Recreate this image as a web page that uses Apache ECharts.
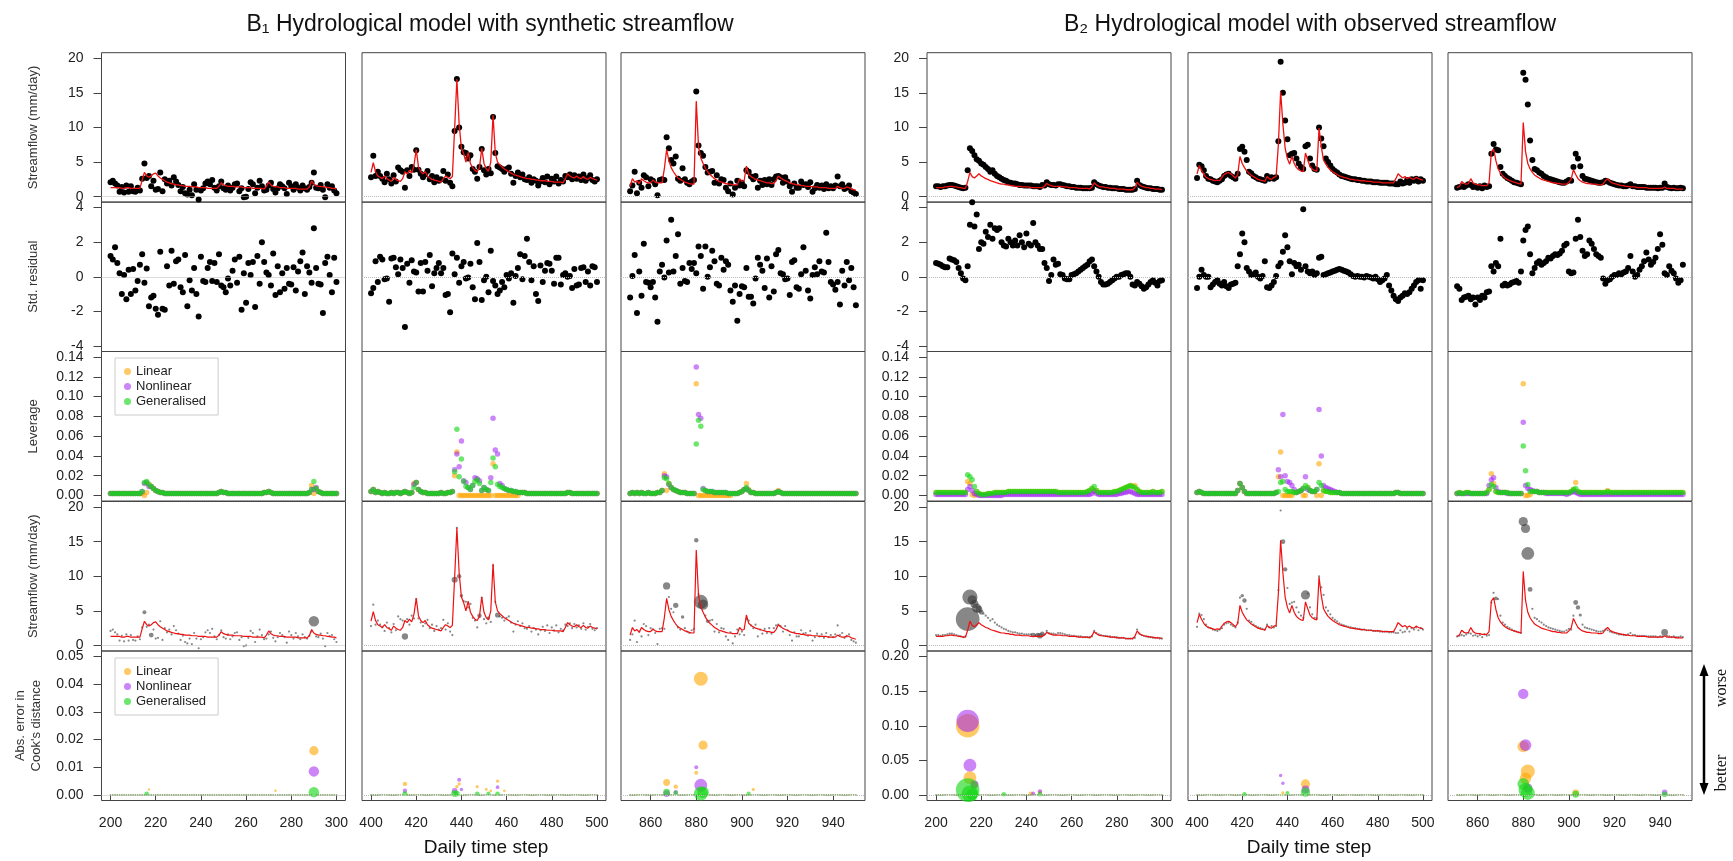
<!DOCTYPE html>
<html>
<head>
<meta charset="utf-8">
<title>Hydrological model diagnostics</title>
<script src="https://cdn.jsdelivr.net/npm/echarts@6/dist/echarts.min.js"></script>
<style>
  html, body { margin: 0; padding: 0; background: #fff; }
  #main { width: 1733px; height: 861px; }
</style>
</head>
<body>
<div id="main"></div>
<script>
// ---------- B1, days 200-300 ----------
const obsB1a = [
  2.1, 2.3, 1.9, 1.6, 0.7, 1.4, 0.6, 1.6, 0.7, 1.5,
  0.8, 0.7, 1.3, 0.9, 2.6, 4.8, 2.7, 3.0, 1.5, 2.3,
  1.0, 1.1, 3.5, 0.8, 2.5, 1.9, 2.3, 1.6, 2.8, 2.2,
  1.7, 0.8, 1.4, 0.5, 0.3, 1.0, 0.2, 1.8, 1.0, -0.4,
  0.9, 1.2, 1.9, 2.2, 1.8, 2.4, 1.3, 0.9, 1.5, 2.2,
  1.2, 1.0, 1.6, 0.9, 1.3, 1.8, 1.9, 0.8, 1.2, -0.1,
  0.0, 1.1, 2.1, 1.8, 0.5, 1.3, 2.3, 1.5, 0.9, 1.0,
  1.6, 2.0, 1.1, 0.6, 1.2, 1.8, 1.5, 1.2, 0.4, 2.0,
  1.5, 1.0, 1.8, 1.3, 0.9, 1.6, 1.2, 1.0, 1.4, 2.0,
  3.5, 1.3, 1.2, 1.7, 1.0, -0.1, 1.8, 1.3, 1.5, 0.9, 0.5
];
const modB1a = [
  1.3, 1.3, 1.3, 1.3, 1.3, 1.2, 1.2, 1.3, 1.3, 1.2,
  1.2, 1.2, 1.2, 1.2, 2.4, 3.5, 3.0, 2.8, 3.0, 3.3,
  3.4, 3.0, 2.7, 2.5, 2.3, 2.1, 2.0, 1.9, 1.8, 1.7,
  1.7, 1.6, 1.6, 1.5, 1.5, 1.5, 1.4, 1.4, 1.4, 1.3,
  1.3, 1.3, 1.3, 1.2, 1.2, 1.2, 1.2, 1.2, 1.5, 2.0,
  1.7, 1.6, 1.5, 1.5, 1.5, 1.4, 1.4, 1.4, 1.4, 1.3,
  1.3, 1.3, 1.3, 1.2, 1.2, 1.2, 1.2, 1.2, 1.1, 1.5,
  2.1, 1.7, 1.5, 1.4, 1.4, 1.3, 1.3, 1.3, 1.2, 1.2,
  1.2, 1.2, 1.2, 1.1, 1.1, 1.1, 1.1, 1.1, 1.4, 2.3,
  1.8, 1.6, 1.5, 1.5, 1.4, 1.4, 1.3, 1.3, 1.2, 1.2, 1.1
];
const resB1a = [
  1.2, 1.0, 1.7, 0.8, 0.2, -1.0, 0.1, -1.3, 0.4, -1.0,
  0.45, -0.8, -0.25, 0.7, 1.3, -0.35, 0.47, -1.7, -1.2, -1.1,
  -1.85, -2.2, 1.45, -1.85, -1.9, 0.6, -0.5, 1.5, -0.4, 0.9,
  1.0, -0.6, -0.9, 1.25, -1.7, -0.2, -0.8, 0.5, -1.0, -2.3,
  1.15, -0.25, -0.3, 0.5, 0.85, -0.25, 0.8, -0.3, 1.3, -0.5,
  -0.6, -0.9, -0.1, -0.5, 0.35, 1.0, -0.35, 1.15, -1.9, 0.2,
  -1.5, 0.8, 0.1, 0.85, -1.75, 1.2, -0.4, 2.0, 0.85, 0.25,
  0.1, -0.5, 1.35, -1.05, 0.6, -0.9, 0.2, -0.7, 0.5, -0.4,
  -0.45, 0.55, -0.8, 0.3, 0.9, 1.4, -1.0, 0.6, 0.25, -0.35,
  2.8, 0.5, -0.4, -0.45, -2.1, 0.8, 1.15, 0.1, -0.9, 1.1, -0.3
];
const levGenB1a = [
  0.002, 0.002, 0.002, 0.002, 0.002, 0.002, 0.002, 0.002, 0.002, 0.002,
  0.002, 0.002, 0.002, 0.002, 0.004, 0.013, 0.014, 0.011, 0.009, 0.007,
  0.005, 0.004, 0.003, 0.003, 0.002, 0.002, 0.002, 0.002, 0.002, 0.002,
  0.002, 0.002, 0.002, 0.002, 0.002, 0.002, 0.002, 0.002, 0.002, 0.002,
  0.002, 0.002, 0.002, 0.002, 0.002, 0.002, 0.002, 0.002, 0.003, 0.004,
  0.003, 0.003, 0.002, 0.002, 0.002, 0.002, 0.002, 0.002, 0.002, 0.002,
  0.002, 0.002, 0.002, 0.002, 0.002, 0.002, 0.002, 0.002, 0.003, 0.003,
  0.004, 0.003, 0.002, 0.002, 0.002, 0.002, 0.002, 0.002, 0.002, 0.002,
  0.002, 0.002, 0.002, 0.002, 0.002, 0.002, 0.002, 0.002, 0.003, 0.006,
  0.014, 0.007, 0.004, 0.003, 0.002, 0.002, 0.002, 0.002, 0.002, 0.002, 0.002
];
const levNonPtsB1a = [[215, 0.012], [216, 0.013], [217, 0.009], [290, 0.006], [291, 0.008]];
const levLinPtsB1a = [[214, 0.002], [215, 0.000], [216, 0.003], [270, 0.004], [289, 0.010], [290, 0.002]];
const inflB1a = [[215, 0.08], [218, 0.12], [290, 0.35]];
const ckLinB1a = [[217, 0.002, 0.02], [273, 0.0015, 0.02], [290, 0.016, 0.3]];
const ckNonB1a = [[290, 0.0085, 0.35]];
const ckGenB1a = [[216, 0.0005, 0.1], [290, 0.001, 0.35]];

// ---------- B1, days 400-500 ----------
const obsB1b = [
  2.8, 5.9, 3.0, 3.6, 3.0, 2.6, 2.1, 3.3, 2.5, 1.9,
  3.1, 2.2, 4.2, 3.8, 3.6, 1.3, 3.8, 3.0, 4.3, 3.9,
  6.7, 3.9, 3.3, 2.8, 3.2, 3.7, 2.5, 3.0, 2.1, 2.8,
  2.3, 2.5, 3.7, 2.3, 3.2, 2.0, 1.5, 9.5, 17.0, 10.0,
  7.2, 6.4, 6.3, 5.5, 6.0, 4.0, 3.6, 2.6, 4.3, 6.9,
  3.8, 3.2, 4.0, 3.4, 11.5, 6.3, 4.4, 4.2, 4.0, 3.6,
  4.0, 4.2, 3.3, 2.0, 3.0, 3.5, 2.8, 3.2, 2.5, 2.4,
  2.8, 2.0, 2.5, 2.3, 1.6, 2.2, 2.7, 2.1, 2.9, 1.8,
  2.6, 2.2, 2.9, 1.9, 2.4, 2.2, 3.0, 2.8, 3.2, 2.5,
  3.1, 2.6, 2.9, 2.4, 3.2, 2.3, 2.7, 3.1, 2.4, 2.2, 2.5
];
const modB1b = [
  3.5, 4.9, 3.6, 3.0, 2.8, 2.6, 3.0, 2.6, 2.4, 2.2,
  2.8, 2.5, 2.3, 2.2, 2.6, 3.6, 3.3, 3.8, 3.4, 4.5,
  6.8, 4.3, 3.6, 3.3, 3.6, 3.0, 2.7, 2.5, 2.4, 2.3,
  2.2, 2.1, 2.6, 3.0, 2.8, 2.6, 2.9, 9.8, 17.0, 10.5,
  7.0, 6.2, 5.0, 6.4, 4.8, 4.2, 3.8, 3.6, 4.2, 7.0,
  4.8, 4.0, 3.7, 5.0, 11.8, 6.3, 5.0, 4.6, 4.3, 4.0,
  3.8, 3.6, 3.4, 3.2, 3.1, 3.0, 2.9, 2.8, 2.7, 2.6,
  2.6, 2.5, 2.5, 2.4, 2.4, 2.3, 2.3, 2.3, 2.2, 2.2,
  2.2, 2.1, 2.1, 2.1, 2.1, 2.0, 2.6, 3.3, 3.0, 2.8,
  2.7, 3.0, 2.7, 2.6, 2.9, 2.6, 2.5, 2.8, 2.6, 2.5, 2.4
];
const resB1b = [
  -0.95, -0.65, 0.9, -0.3, 1.15, 1.0, -0.15, -0.1, -1.45, 1.05,
  1.1, 0.55, 0.15, 1.0, 0.5, -2.9, 0.75, -0.35, 0.95, 0.3,
  0.25, -0.85, 0.8, -0.85, 0.85, 0.35, 1.25, -0.55, 0.2, 0.5,
  0.8, 0.2, 0.5, -1.05, -1.0, -2.05, 1.35, 0.15, 1.1, -0.35,
  0.6, 0.85, -0.1, -0.05, 0.75, -0.6, -1.3, 1.95, 0.85, -1.35,
  -0.2, 0.0, -0.9, 1.5, -0.25, -0.5, -1.0, -0.8, -0.3, -0.6,
  0.1, -0.1, 0.2, -1.5, 0.05, 0.5, 1.3, -0.15, 1.2, 2.2,
  0.85, -0.2, 0.6, -1.0, -1.4, 0.65, -0.3, 0.35, 0.8, 0.75,
  0.35, -0.4, 1.1, 1.1, -0.45, 0.1, 0.2, 0.0, 0.05, -0.65,
  0.45, -0.5, -0.45, 0.5, 0.55, -0.3, 0.3, -0.5, 0.6, 0.55, -0.3
];
const levGenB1b = [
  0.004, 0.006, 0.003, 0.004, 0.003, 0.002, 0.003, 0.002, 0.002, 0.003,
  0.002, 0.003, 0.003, 0.002, 0.003, 0.004, 0.003, 0.002, 0.003, 0.008,
  0.013, 0.006, 0.004, 0.003, 0.003, 0.002, 0.002, 0.002, 0.002, 0.002,
  0.002, 0.003, 0.002, 0.002, 0.003, 0.003, 0.004, 0.024, 0.067, 0.019,
  0.037, 0.014, 0.009, 0.008, 0.006, 0.010, 0.014, 0.016, 0.012, 0.005,
  0.008, 0.006, 0.005, 0.013, 0.038, 0.029, 0.011, 0.009, 0.008, 0.007,
  0.006, 0.005, 0.005, 0.004, 0.004, 0.003, 0.003, 0.003, 0.003, 0.002,
  0.002, 0.002, 0.002, 0.002, 0.002, 0.002, 0.002, 0.002, 0.002, 0.002,
  0.002, 0.002, 0.002, 0.002, 0.002, 0.002, 0.002, 0.003, 0.003, 0.002,
  0.002, 0.002, 0.002, 0.002, 0.002, 0.002, 0.002, 0.002, 0.002, 0.002, 0.002
];
const levNonPtsB1b = [
  [419, 0.011], [437, 0.026], [438, 0.042], [439, 0.029], [440, 0.055], [441, 0.015],
  [442, 0.013], [446, 0.018], [447, 0.017], [448, 0.015], [453, 0.018], [454, 0.078],
  [455, 0.046], [456, 0.042], [457, 0.012], [458, 0.010]
];
const levLinPtsB1b = [
  [419, 0.012], [437, 0.020], [438, 0.044], [439, 0], [440, 0], [441, 0], [442, 0], [443, 0],
  [444, 0], [445, 0], [446, 0], [447, 0], [448, 0], [449, 0], [450, 0], [451, 0], [452, 0],
  [453, 0], [454, 0.032], [455, 0], [456, 0], [457, 0], [458, 0], [459, 0], [460, 0],
  [461, 0], [462, 0], [463, 0], [464, 0], [465, 0]
];
const inflB1b = [[415, 0.18], [437, 0.17], [439, 0.1], [440, 0.06], [448, 0.1], [452, 0.05], [456, 0.13]];
const ckLinB1b = [[415, 0.004, 0.1], [438, 0.003, 0.06], [439, 0.004, 0.06], [447, 0.003, 0.05],
  [451, 0.002, 0.04], [453, 0.0015, 0.03], [456, 0.005, 0.06], [459, 0.0015, 0.03]];
const ckNonB1b = [[415, 0.0015, 0.1], [437, 0.0015, 0.15], [439, 0.0055, 0.08], [440, 0.002, 0.06], [456, 0.0028, 0.07]];
const ckGenB1b = [[415, 0.0005, 0.12], [437, 0.0005, 0.2], [438, 0.0005, 0.15], [447, 0.0005, 0.1],
  [452, 0.0005, 0.08], [456, 0.0005, 0.1]];

// ---------- B1, days 851-950 ----------
const obsB1c = [
  0.8, 1.6, 3.6, 0.5, 2.0, 1.3, 3.1, 2.8, 1.5, 2.5,
  2.3, 1.8, 0.2, 2.4, 2.5, 2.4, 8.6, 7.0, 5.3, 4.8,
  5.8, 2.6, 2.3, 4.1, 2.5, 2.0, 1.8, 2.2, 2.4, 15.2,
  7.4, 6.3, 5.9, 4.3, 3.5, 3.6, 3.7, 2.0, 3.1, 1.9,
  2.5, 2.4, 1.3, 0.8, 1.9, 0.3, 1.3, 2.3, 1.6, 2.0,
  1.5, 3.8, 3.6, 2.9, 2.5, 3.0, 1.3, 2.3, 1.7, 2.4,
  1.8, 2.5, 1.7, 2.5, 2.9, 3.0, 2.8, 2.0, 2.8, 2.2,
  1.5, 0.7, 1.9, 1.3, 1.3, 2.2, 1.7, 1.8, 1.4, 2.1,
  0.7, 1.2, 1.7, 1.3, 1.6, 1.1, 1.8, 1.2, 1.5, 1.2,
  1.6, 2.9, 1.5, 1.8, 1.1, 1.3, 1.6, 0.8, 0.6, 0.4
];
const modB1c = [
  1.5, 2.6, 2.1, 2.3, 1.9, 2.6, 2.3, 2.1, 2.0, 2.0,
  2.4, 2.1, 2.0, 2.0, 2.0, 4.0, 6.8, 5.2, 4.2, 3.6,
  3.1, 2.7, 2.5, 2.3, 2.1, 2.0, 1.9, 1.8, 1.8, 13.8,
  7.2, 5.6, 4.8, 4.1, 3.6, 3.2, 2.9, 2.6, 2.4, 2.2,
  2.1, 2.0, 1.9, 1.8, 1.8, 1.7, 1.7, 1.7, 2.6, 2.2,
  2.3, 4.4, 3.2, 2.9, 2.7, 2.5, 2.4, 2.3, 2.2, 2.1,
  2.0, 2.0, 1.9, 1.9, 2.3, 3.0, 2.7, 2.5, 2.3, 2.2,
  2.0, 1.9, 1.8, 1.7, 1.7, 1.6, 1.6, 1.5, 1.5, 1.5,
  1.4, 1.4, 1.4, 1.3, 1.3, 1.3, 1.3, 1.2, 1.2, 1.2,
  1.2, 1.5, 1.3, 1.2, 1.2, 1.4, 1.3, 1.1, 1.0, 0.9
];
const resB1c = [
  -1.2, 0.05, 1.25, -2.1, 0.3, -1.1, 1.9, -0.3, -0.35, -0.6,
  -0.3, -1.2, -2.6, 0.3, 0.7, -0.05, 2.1, 0.25, 3.3, 0.3,
  1.2, 2.45, -0.4, 0.5, -0.25, -0.3, 0.8, 0.45, 0.8, 0.2,
  1.75, 1.2, -0.7, 1.75, 0.0, 0.55, 1.5, 0.9, -0.4, -0.5,
  1.1, 0.4, 0.9, 0.7, -0.8, -1.45, -0.5, -2.55, -1.0, -0.55,
  -0.6, 0.5, -1.15, -1.15, -1.55, -0.1, 1.1, 0.7, 0.35, -0.65,
  1.05, -1.2, 0.6, -0.85, 1.3, 1.55, 0.2, 0.15, -0.15, -0.1,
  -1.05, 0.85, 0.95, -0.6, -0.7, 0.15, 1.7, 0.35, -0.8, -1.25,
  0.1, 0.55, 0.15, 0.9, 0.3, 0.25, 2.55, 0.85, -0.3, -0.45,
  -0.75, -0.3, -1.6, 0.35, -0.5, 0.85, -0.2, 0.5, -0.6, -1.65
];
const levGenB1c = [
  0.002, 0.003, 0.002, 0.003, 0.002, 0.003, 0.002, 0.002, 0.003, 0.002,
  0.002, 0.002, 0.003, 0.003, 0.005, 0.018, 0.017, 0.012, 0.008, 0.006,
  0.005, 0.004, 0.003, 0.003, 0.003, 0.002, 0.002, 0.002, 0.002, 0.052,
  0.076, 0.070, 0.006, 0.005, 0.004, 0.004, 0.004, 0.003, 0.003, 0.003,
  0.003, 0.003, 0.003, 0.002, 0.002, 0.002, 0.002, 0.002, 0.003, 0.004,
  0.006, 0.008, 0.005, 0.003, 0.003, 0.002, 0.002, 0.002, 0.002, 0.002,
  0.002, 0.002, 0.002, 0.002, 0.003, 0.004, 0.003, 0.002, 0.002, 0.002,
  0.002, 0.002, 0.002, 0.002, 0.002, 0.002, 0.002, 0.002, 0.002, 0.002,
  0.002, 0.002, 0.002, 0.002, 0.002, 0.002, 0.002, 0.002, 0.002, 0.002,
  0.002, 0.002, 0.002, 0.002, 0.002, 0.002, 0.002, 0.002, 0.002, 0.002
];
const levNonPtsB1c = [[866, 0.020], [867, 0.019], [868, 0.011], [880, 0.130], [881, 0.082],
  [882, 0.078], [883, 0.007], [902, 0.007]];
const levLinPtsB1c = [[866, 0.022], [867, 0.005], [880, 0.113], [881, 0], [882, 0], [883, 0],
  [884, 0], [885, 0], [886, 0], [887, 0], [888, 0], [889, 0], [890, 0], [891, 0], [892, 0],
  [893, 0], [894, 0], [895, 0], [902, 0.012], [903, 0.006], [916, 0.005]];
const inflB1c = [[867, 0.22], [871, 0.14], [874, 0.06], [880, 0.1], [882, 0.5], [883, 0.35], [885, 0.06]];
const ckLinB1c = [[867, 0.0045, 0.2], [871, 0.003, 0.1], [880, 0.008, 0.08], [882, 0.042, 0.5],
  [883, 0.018, 0.3], [905, 0.002, 0.05]];
const ckNonB1c = [[867, 0.0005, 0.2], [871, 0.001, 0.1], [880, 0.010, 0.08], [882, 0.0035, 0.45]];
const ckGenB1c = [[867, 0.001, 0.2], [871, 0.0008, 0.1], [882, 0.0005, 0.5], [883, 0.001, 0.4], [903, 0.0005, 0.08]];

// ---------- B2, days 200-300 ----------
const obsB2a = [
  1.5, 1.5, 1.4, 1.5, 1.5, 1.6, 1.7, 1.7, 1.6, 1.5,
  1.4, 1.3, 1.2, 1.3, 3.8, 7.0, 6.6, 6.0, 5.4, 5.2,
  4.8, 4.6, 4.3, 4.0, 3.6, 3.8, 3.3, 3.0, 2.8, 2.6,
  2.4, 2.3, 2.1, 2.0, 1.9, 1.9, 1.8, 1.7, 1.7, 1.6,
  1.6, 1.6, 1.6, 1.5, 1.5, 1.5, 1.4, 1.7, 1.6, 2.1,
  1.8, 1.7, 1.7, 1.6, 1.8, 1.8, 1.7, 1.6, 1.5, 1.5,
  1.4, 1.4, 1.3, 1.3, 1.3, 1.2, 1.2, 1.2, 1.2, 1.3,
  2.1, 1.8, 1.6, 1.5, 1.4, 1.4, 1.3, 1.3, 1.2, 1.2,
  1.2, 1.1, 1.1, 1.1, 1.0, 1.0, 1.0, 1.0, 1.1, 2.3,
  1.7, 1.5, 1.4, 1.3, 1.2, 1.2, 1.1, 1.1, 1.1, 1.0, 1.0
];
const modB2a = [
  1.3, 1.3, 1.3, 1.3, 1.4, 1.4, 1.5, 1.5, 1.4, 1.4,
  1.3, 1.3, 1.2, 1.2, 2.2, 3.5, 2.9, 2.7, 3.0, 3.3,
  3.0, 2.8, 2.6, 2.5, 2.3, 2.2, 2.1, 2.0, 1.9, 1.8,
  1.8, 1.7, 1.7, 1.6, 1.6, 1.5, 1.5, 1.5, 1.4, 1.4,
  1.4, 1.4, 1.3, 1.3, 1.3, 1.3, 1.3, 1.3, 1.5, 1.9,
  1.7, 1.6, 1.5, 1.5, 1.5, 1.5, 1.4, 1.4, 1.4, 1.3,
  1.3, 1.3, 1.3, 1.2, 1.2, 1.2, 1.2, 1.2, 1.1, 1.4,
  2.0, 1.7, 1.5, 1.4, 1.4, 1.3, 1.3, 1.2, 1.2, 1.2,
  1.1, 1.1, 1.1, 1.1, 1.0, 1.0, 1.0, 1.0, 1.3, 2.1,
  1.7, 1.5, 1.4, 1.3, 1.3, 1.2, 1.2, 1.1, 1.1, 1.1, 1.0
];
const resB2a = [
  0.8, 0.75, 0.7, 0.6, 0.55, 0.55, 1.05, 1.0, 0.95, 0.85,
  0.5, 0.2, -0.1, -0.2, 0.6, 3.0, 4.3, 2.9, 3.6, 1.6,
  2.0, 1.9, 2.6, 2.3, 3.0, 2.2, 2.8, 2.7, 2.8, 2.0,
  1.8, 1.75, 2.2, 2.0, 1.8, 2.1, 1.8, 2.4, 2.0, 1.7,
  2.5, 1.9, 1.8, 3.1, 2.0, 1.8, 1.6, 1.6, 0.8, 0.5,
  -0.25, 0.1, 1.0, 0.7, 0.75, 0.15, 0.1, -0.1, -0.15, -0.15,
  0.1, 0.15, 0.2, 0.3, 0.4, 0.5, 0.6, 0.7, 0.9, 1.0,
  0.6, 0.3, 0.0, -0.3, -0.45, -0.45, -0.4, -0.3, -0.2, -0.1,
  0.0, 0.0, 0.1, 0.15, 0.2, 0.2, 0.0, -0.45, -0.5, -0.3,
  -0.4, -0.55, -0.7, -0.6, -0.45, -0.3, -0.2, -0.35, -0.5, -0.25, -0.2
];
const levGenB2a = [
  0.003, 0.003, 0.003, 0.003, 0.003, 0.003, 0.003, 0.003, 0.003, 0.003,
  0.003, 0.003, 0.003, 0.003, 0.021, 0.019, 0.016, 0.009, 0.004, 0.002,
  0.001, 0.001, 0.001, 0.002, 0.002, 0.002, 0.003, 0.003, 0.003, 0.003,
  0.003, 0.003, 0.004, 0.004, 0.004, 0.004, 0.004, 0.004, 0.004, 0.004,
  0.004, 0.004, 0.004, 0.004, 0.004, 0.004, 0.004, 0.004, 0.004, 0.004,
  0.004, 0.004, 0.004, 0.004, 0.003, 0.003, 0.003, 0.003, 0.003, 0.003,
  0.003, 0.003, 0.003, 0.003, 0.003, 0.003, 0.003, 0.004, 0.005, 0.007,
  0.009, 0.005, 0.003, 0.003, 0.003, 0.003, 0.003, 0.003, 0.003, 0.004,
  0.004, 0.005, 0.006, 0.007, 0.008, 0.009, 0.010, 0.009, 0.008, 0.006,
  0.004, 0.003, 0.003, 0.003, 0.003, 0.003, 0.004, 0.003, 0.003, 0.003, 0.004
];
const levNonB2a = [
  0.001, 0.001, 0.001, 0.001, 0.001, 0.001, 0.001, 0.001, 0.001, 0.001,
  0.001, 0.001, 0.001, 0.001, 0.006, 0.009, 0.005, 0.002, 0.001, 0.000,
  0.000, 0.000, 0.000, 0.000, 0.000, 0.000, 0.000, 0.000, 0.000, 0.000,
  0.001, 0.001, 0.001, 0.001, 0.001, 0.001, 0.001, 0.001, 0.001, 0.001,
  0.001, 0.001, 0.001, 0.001, 0.001, 0.001, 0.001, 0.001, 0.001, 0.001,
  0.001, 0.001, 0.001, 0.001, 0.001, 0.001, 0.001, 0.001, 0.001, 0.001,
  0.001, 0.001, 0.001, 0.001, 0.001, 0.001, 0.001, 0.001, 0.001, 0.002,
  0.004, 0.002, 0.001, 0.001, 0.001, 0.001, 0.001, 0.001, 0.001, 0.001,
  0.001, 0.002, 0.002, 0.003, 0.003, 0.004, 0.004, 0.003, 0.002, 0.001,
  0.001, 0.001, 0.001, 0.001, 0.001, 0.001, 0.001, 0.001, 0.001, 0.001, 0.001
];
const levLinPtsB2a = [[214, 0.014], [215, 0.012], [216, 0.001], [217, 0.000], [270, 0.005], [288, 0.010]];
const inflB2a = [[214, 0.9], [215, 0.55], [216, 0.3], [217, 0.25], [218, 0.3], [219, 0.2], [220, 0.12],
  [243, 0.12], [245, 0.12], [246, 0.15], [247, 0.1]];
const ckLinB2a = [[214, 0.100, 0.9], [215, 0.025, 0.45], [217, 0.015, 0.2], [242, 0.002, 0.1], [246, 0.004, 0.08]];
const ckNonB2a = [[214, 0.107, 0.85], [215, 0.043, 0.45], [217, 0.015, 0.25], [243, 0.002, 0.08], [246, 0.005, 0.1]];
const ckGenB2a = [[214, 0.007, 0.9], [215, 0.002, 0.6], [216, 0.001, 0.4], [230, 0.001, 0.1], [246, 0.001, 0.1]];

// ---------- B2, days 400-500 ----------
const obsB2b = [
  2.7, 4.6, 4.4, 3.8, 3.0, 2.6, 2.5, 2.3, 2.2, 2.1,
  2.3, 2.5, 3.0, 3.2, 3.3, 3.0, 2.8, 2.6, 3.3, 6.9,
  7.2, 6.5, 5.3, 3.6, 3.4, 3.0, 2.8, 2.6, 2.5, 2.4,
  2.3, 3.0, 2.6, 2.8, 2.6, 2.8, 8.0, 19.5, 15.0, 11.0,
  8.3, 6.0, 6.2, 6.3, 5.5, 4.8, 4.3, 4.0, 7.3, 7.5,
  5.5, 4.5, 4.0, 3.9, 10.0, 8.4, 7.3, 5.5, 5.0, 4.5,
  4.0, 3.7, 3.5, 3.2, 3.0, 2.9, 2.8, 2.7, 2.6, 2.5,
  2.5, 2.4, 2.4, 2.3, 2.3, 2.2, 2.2, 2.2, 2.1, 2.1,
  2.1, 2.0, 2.0, 2.0, 2.0, 1.9, 1.9, 1.9, 1.8, 1.8,
  2.2, 1.9, 2.0, 2.4, 2.0, 2.5, 2.3, 2.6, 2.2, 2.5, 2.3
];
const modB2b = [
  3.3, 4.5, 3.8, 3.2, 2.8, 2.6, 2.5, 2.4, 2.3, 2.4,
  2.3, 2.8, 3.2, 3.4, 3.5, 3.3, 3.0, 2.7, 3.2, 5.8,
  4.8, 4.2, 3.7, 3.4, 3.1, 2.9, 2.7, 2.5, 2.4, 2.3,
  2.2, 2.9, 2.6, 2.5, 2.8, 2.9, 7.5, 15.2, 10.5, 7.0,
  5.5, 4.7, 5.8, 4.8, 4.2, 3.9, 3.7, 3.6, 6.3, 5.3,
  4.4, 4.0, 3.8, 3.7, 9.9, 7.2, 5.3, 4.7, 4.2, 3.9,
  3.6, 3.4, 3.2, 3.0, 2.9, 2.8, 2.7, 2.6, 2.5, 2.5,
  2.4, 2.4, 2.3, 2.3, 2.3, 2.2, 2.2, 2.2, 2.1, 2.1,
  2.1, 2.1, 2.0, 2.0, 2.0, 2.0, 2.0, 2.0, 2.6, 3.3,
  3.0, 2.7, 2.9, 2.6, 2.8, 2.6, 2.5, 2.8, 2.6, 2.5, 2.4
];
const resB2b = [
  -0.65, 0.0, 0.4, 0.1, 0.0, 0.0, -0.6, -0.45, -0.3, -0.2,
  -0.4, -0.5, -0.3, -0.55, -0.65, -0.45, -0.4, -0.35, 0.6, 1.3,
  2.5, 2.0, 0.5, 0.3, 0.1, 0.15, 0.25, 0.0, -0.1, 0.05,
  0.9, -0.6, -0.65, -0.5, -0.3, 0.05, 0.6, 0.8, 1.45, 2.4,
  1.7, 0.9, 0.15, 0.8, 0.6, 0.7, 0.4, 3.9, 0.6, 0.3,
  0.2, 0.3, 0.1, 0.2, 1.1, 1.15, 0.1, 0.15, 0.2, 0.25,
  0.3, 0.35, 0.4, 0.45, 0.4, 0.35, 0.3, 0.25, 0.15, 0.05,
  0.0, 0.05, 0.0, 0.0, -0.05, 0.05, 0.0, -0.05, -0.1, 0.0,
  -0.15, -0.3, -0.2, -0.1, 0.1, -0.5, -0.8, -1.1, -1.3, -1.4,
  -1.2, -1.1, -0.95, -1.0, -0.9, -0.7, -0.5, -0.3, -0.2, -0.7, -0.2
];
const levGenB2b = [
  0.003, 0.004, 0.003, 0.002, 0.002, 0.002, 0.002, 0.002, 0.002, 0.002,
  0.002, 0.002, 0.002, 0.002, 0.002, 0.002, 0.002, 0.002, 0.005, 0.012,
  0.008, 0.004, 0.002, 0.002, 0.002, 0.002, 0.002, 0.002, 0.002, 0.002,
  0.002, 0.002, 0.002, 0.002, 0.002, 0.003, 0.004, 0.013, 0.014, 0.006,
  0.004, 0.004, 0.004, 0.003, 0.003, 0.004, 0.005, 0.007, 0.010, 0.008,
  0.005, 0.004, 0.004, 0.006, 0.013, 0.010, 0.005, 0.004, 0.004, 0.003,
  0.003, 0.003, 0.003, 0.003, 0.002, 0.002, 0.002, 0.002, 0.002, 0.002,
  0.002, 0.002, 0.002, 0.002, 0.002, 0.002, 0.002, 0.002, 0.002, 0.002,
  0.002, 0.002, 0.002, 0.002, 0.002, 0.002, 0.002, 0.002, 0.003, 0.003,
  0.002, 0.002, 0.002, 0.002, 0.002, 0.002, 0.002, 0.002, 0.002, 0.002, 0.002
];
const levNonPtsB2b = [[436, 0.026], [437, 0.019], [438, 0.082], [439, 0.020], [440, 0.014], [441, 0.013],
  [442, 0.010], [443, 0.006], [448, 0.019], [449, 0.006], [454, 0.087], [455, 0.040], [456, 0.010],
  [457, 0.008], [458, 0.007], [459, 0.006], [460, 0.005], [461, 0.004]];
const levLinPtsB2b = [[436, 0.019], [437, 0.044], [438, 0], [439, 0], [440, 0], [441, 0], [442, 0],
  [447, 0], [448, 0], [453, 0], [454, 0.032], [455, 0]];
const inflB2b = [[420, 0.06], [421, 0.1], [438, 0.12], [439, 0.1], [448, 0.3]];
const ckLinB2b = [[438, 0.003, 0.05], [448, 0.016, 0.3]];
const ckNonB2b = [[437, 0.028, 0.06], [438, 0.017, 0.06], [448, 0.008, 0.25]];
const ckGenB2b = [[421, 0.001, 0.1], [440, 0.003, 0.08], [448, 0.004, 0.3]];

// ---------- B2, days 851-950 ----------
const obsB2c = [
  1.3, 1.4, 1.5, 1.4, 1.6, 1.8, 1.7, 1.4, 1.5, 1.3,
  1.5, 1.2, 1.6, 1.4, 1.5, 6.2, 7.6, 6.8, 6.7, 4.3,
  3.3, 3.0, 2.7, 2.5, 2.3, 2.1, 2.0, 1.9, 1.8, 17.9,
  16.9, 13.3, 8.1, 5.3, 4.0, 3.8, 3.5, 3.3, 3.0, 2.8,
  2.6, 2.5, 2.4, 2.3, 2.2, 2.1, 2.0, 2.0, 2.2, 2.4,
  2.3, 4.3, 6.2, 5.5, 4.4, 3.0, 2.6, 2.5, 2.4, 2.3,
  2.2, 2.1, 2.0, 2.0, 2.1, 2.3, 2.2, 2.0, 1.9, 1.8,
  1.7, 1.6, 1.6, 1.5, 1.5, 1.6, 1.8, 1.5, 1.5, 1.4,
  1.4, 1.4, 1.4, 1.3, 1.3, 1.3, 1.3, 1.3, 1.2, 1.3,
  1.3, 1.9, 1.4, 1.3, 1.2, 1.3, 1.2, 1.2, 1.3, 1.2
];
const modB2c = [
  1.3, 1.5, 2.2, 1.9, 1.8, 1.9, 2.6, 2.0, 1.8, 1.7,
  1.7, 1.6, 1.6, 1.6, 2.0, 6.4, 6.9, 5.2, 4.0, 3.4,
  3.0, 2.7, 2.5, 2.3, 2.2, 2.1, 2.0, 1.9, 1.8, 10.7,
  6.5, 4.8, 4.0, 3.5, 3.1, 2.9, 2.7, 2.5, 2.4, 2.3,
  2.2, 2.1, 2.0, 2.0, 1.9, 1.9, 1.8, 1.8, 1.8, 2.1,
  2.5, 3.9, 3.2, 2.6, 2.3, 2.1, 2.0, 1.9, 1.9, 1.8,
  1.8, 1.8, 1.7, 1.7, 1.8, 2.3, 2.6, 2.2, 2.0, 1.9,
  1.8, 1.7, 1.6, 1.6, 1.5, 1.5, 1.4, 1.4, 1.4, 1.3,
  1.3, 1.3, 1.3, 1.3, 1.2, 1.2, 1.2, 1.2, 1.2, 1.2,
  1.2, 1.4, 1.2, 1.2, 1.2, 1.2, 1.1, 1.1, 1.1, 1.1
];
const resB2c = [
  -0.55, -0.7, -1.35, -1.2, -1.15, -1.1, -1.3, -1.2, -1.6, -1.2,
  -1.35, -1.1, -1.2, -0.9, -0.85, 0.6, 0.3, 0.8, 0.6, 2.2,
  -0.5, -0.4, -0.5, -0.45, -0.35, -0.3, -0.25, -0.35, 0.3, 2.1,
  2.7, 2.9, 1.3, 0.2, 0.5, 0.8, 0.9, 0.7, 0.8, 0.9,
  1.1, 1.05, 1.2, 1.3, 1.25, 1.35, 1.5, 1.8, 1.9, 0.3,
  0.2, 0.25, 2.2, 3.3, 2.3, 1.5, 1.2, 1.3, 2.1, 1.9,
  1.6, 1.3, 1.2, 1.1, -0.1, -0.4, -0.2, -0.15, 0.0, 0.1,
  0.1, 0.2, 0.15, 0.25, 0.3, 0.5, 1.2, 0.3, 0.0, 0.1,
  0.4, 0.6, 0.9, 1.4, 1.0, 0.7, 0.85, 1.1, 1.6, 2.45,
  1.85, 0.2, 0.1, 0.6, 0.35, 0.2, -0.1, -0.35, -0.2, 0.7
];
const levGenB2c = [
  0.002, 0.003, 0.002, 0.002, 0.003, 0.003, 0.002, 0.002, 0.002, 0.002,
  0.002, 0.002, 0.002, 0.003, 0.006, 0.011, 0.009, 0.004, 0.003, 0.003,
  0.003, 0.003, 0.003, 0.002, 0.002, 0.002, 0.002, 0.002, 0.002, 0.050,
  0.025, 0.011, 0.004, 0.004, 0.004, 0.004, 0.003, 0.003, 0.003, 0.003,
  0.003, 0.003, 0.003, 0.003, 0.003, 0.003, 0.003, 0.003, 0.003, 0.003,
  0.004, 0.006, 0.007, 0.004, 0.003, 0.003, 0.003, 0.003, 0.003, 0.003,
  0.003, 0.003, 0.003, 0.003, 0.003, 0.003, 0.004, 0.003, 0.003, 0.003,
  0.003, 0.003, 0.003, 0.003, 0.003, 0.003, 0.003, 0.003, 0.003, 0.003,
  0.003, 0.003, 0.003, 0.003, 0.003, 0.003, 0.003, 0.003, 0.003, 0.003,
  0.003, 0.003, 0.003, 0.003, 0.003, 0.003, 0.003, 0.003, 0.003, 0.003
];
const levNonB2c = [
  0.002, 0.002, 0.002, 0.002, 0.002, 0.002, 0.002, 0.002, 0.002, 0.002,
  0.002, 0.002, 0.002, 0.002, 0.010, 0.016, 0.018, 0.008, 0.004, 0.003,
  0.003, 0.003, 0.002, 0.002, 0.002, 0.002, 0.002, 0.002, 0.002, 0.074,
  0.010, 0.007, 0.006, 0.005, 0.004, 0.004, 0.003, 0.003, 0.003, 0.002,
  0.002, 0.002, 0.002, 0.002, 0.002, 0.002, 0.002, 0.002, 0.001, 0.002,
  0.003, 0.004, 0.003, 0.002, 0.001, 0.001, 0.001, 0.001, 0.001, 0.001,
  0.001, 0.001, 0.001, 0.001, 0.001, 0.001, 0.001, 0.001, 0.001, 0.001,
  0.001, 0.001, 0.001, 0.001, 0.001, 0.001, 0.001, 0.001, 0.001, 0.001,
  0.001, 0.001, 0.001, 0.001, 0.001, 0.001, 0.001, 0.001, 0.001, 0.001,
  0.001, 0.001, 0.001, 0.001, 0.001, 0.001, 0.001, 0.001, 0.001, 0.001
];
const levLinPtsB2c = [[866, 0.022], [867, 0.012], [880, 0.113], [881, 0], [882, 0], [883, 0.001],
  [903, 0.013], [917, 0.005]];
const inflB2c = [[868, 0.08], [880, 0.3], [881, 0.3], [882, 0.45], [883, 0.12], [903, 0.12],
  [904, 0.1], [905, 0.05], [942, 0.2]];
const ckLinB2c = [[880, 0.070, 0.4], [881, 0.024, 0.4], [882, 0.034, 0.5], [903, 0.003, 0.2]];
const ckNonB2c = [[880, 0.146, 0.35], [881, 0.072, 0.4], [882, 0.010, 0.3], [942, 0.004, 0.15]];
const ckGenB2c = [[880, 0.016, 0.4], [881, 0.007, 0.5], [882, 0.003, 0.5], [903, 0.001, 0.2], [942, 0.001, 0.15]];

// ---------- axes ----------
const dayStarts = [200, 400, 851];
const xTickVals = [[200, 220, 240, 260, 280, 300], [400, 420, 440, 460, 480, 500], [860, 880, 900, 920, 940]];
const flowTicks = [0, 5, 10, 15, 20];
const resTicks = [-4, -2, 0, 2, 4];
const levTicks = [0, 0.02, 0.04, 0.06, 0.08, 0.10, 0.12, 0.14];
const cookTicksB1 = [0, 0.01, 0.02, 0.03, 0.04, 0.05];
const cookTicksB2 = [0, 0.05, 0.10, 0.15, 0.20];
const methodNames = ['Linear', 'Nonlinear', 'Generalised'];

const panels = [
  { obs: obsB1a, mod: modB1a, res: resB1a, gen: levGenB1a, non: null, nonPts: levNonPtsB1a, linPts: levLinPtsB1a, infl: inflB1a, ck: [ckLinB1a, ckNonB1a, ckGenB1a] },
  { obs: obsB1b, mod: modB1b, res: resB1b, gen: levGenB1b, non: null, nonPts: levNonPtsB1b, linPts: levLinPtsB1b, infl: inflB1b, ck: [ckLinB1b, ckNonB1b, ckGenB1b] },
  { obs: obsB1c, mod: modB1c, res: resB1c, gen: levGenB1c, non: null, nonPts: levNonPtsB1c, linPts: levLinPtsB1c, infl: inflB1c, ck: [ckLinB1c, ckNonB1c, ckGenB1c] },
  { obs: obsB2a, mod: modB2a, res: resB2a, gen: levGenB2a, non: levNonB2a, nonPts: [], linPts: levLinPtsB2a, infl: inflB2a, ck: [ckLinB2a, ckNonB2a, ckGenB2a] },
  { obs: obsB2b, mod: modB2b, res: resB2b, gen: levGenB2b, non: null, nonPts: levNonPtsB2b, linPts: levLinPtsB2b, infl: inflB2b, ck: [ckLinB2b, ckNonB2b, ckGenB2b] },
  { obs: obsB2c, mod: modB2c, res: resB2c, gen: levGenB2c, non: levNonB2c, nonPts: [], linPts: levLinPtsB2c, infl: inflB2c, ck: [ckLinB2c, ckNonB2c, ckGenB2c] }
];

// ---------- layout ----------
const FONT = "'Liberation Sans', Arial, Helvetica, sans-serif";
const colLeft = [101.5, 362, 621, 927, 1188, 1448];
const colWidth = 244;
const rowTop = [52.7, 202, 351.5, 501.5, 651];
const rowHeight = 149.5;
const xRanges = [[196, 304], [396, 504], [847, 954]];
const methodColors = ['rgba(255,165,0,0.6)', 'rgba(160,32,240,0.55)', 'rgba(20,215,20,0.62)'];

const zeroLine = {
  silent: true, symbol: 'none', label: { show: false },
  lineStyle: { type: 'dotted', color: '#bbb', width: 1 },
  data: [{ yAxis: 0 }]
};

const grid = [], xAxis = [], yAxis = [], series = [];

panels.forEach((p, c) => {
  const k = c % 3;
  const start = dayStarts[k];
  const isB2 = c >= 3;
  const showY = c === 0 || c === 3;
  const yDefs = [
    { min: -0.8, max: 20.8, ticks: flowTicks, fmt: v => String(v) },
    { min: -4.32, max: 4.32, ticks: resTicks, fmt: v => String(v) },
    { min: -0.0056, max: 0.1456, ticks: levTicks, fmt: v => v.toFixed(2) },
    { min: -0.8, max: 20.8, ticks: flowTicks, fmt: v => String(v) },
    isB2 ? { min: -0.008, max: 0.208, ticks: cookTicksB2, fmt: v => v.toFixed(2) }
         : { min: -0.002, max: 0.052, ticks: cookTicksB1, fmt: v => v.toFixed(2) }
  ];
  // grid / axis index of panel c, row r
  const idx = r => c * 5 + r;
  for (let r = 0; r < 5; r++) {
    grid.push({
      left: colLeft[c], top: rowTop[r], width: colWidth, height: rowHeight,
      show: true, borderColor: '#444', borderWidth: 1
    });
    xAxis.push({
      type: 'value', gridIndex: idx(r), min: xRanges[k][0], max: xRanges[k][1],
      axisLine: { show: false }, splitLine: { show: false },
      axisTick: { show: r === 4, customValues: xTickVals[k], length: 5, lineStyle: { color: '#444' } },
      axisLabel: { show: r === 4, customValues: xTickVals[k], margin: 16, fontSize: 14, color: '#222', fontFamily: FONT }
    });
    const yd = yDefs[r];
    yAxis.push({
      type: 'value', gridIndex: idx(r), min: yd.min, max: yd.max,
      axisLine: { show: false }, splitLine: { show: false },
      axisTick: { show: showY, customValues: yd.ticks, length: 8, lineStyle: { color: '#444' } },
      axisLabel: { show: showY, customValues: yd.ticks, formatter: yd.fmt, margin: 18, fontSize: 14, color: '#222', fontFamily: FONT }
    });
  }
  const pair = arr => arr.map((v, i) => [start + i, v]);

  // row 1: observed points and model line
  series.push({
    type: 'scatter', xAxisIndex: idx(0), yAxisIndex: idx(0), data: pair(p.obs),
    symbolSize: 6, itemStyle: { color: '#000', opacity: 1 }, markLine: zeroLine, z: 2
  });
  series.push({
    type: 'line', xAxisIndex: idx(0), yAxisIndex: idx(0), data: pair(p.mod),
    symbol: 'none', lineStyle: { color: '#ee1111', width: 1.3 }, z: 3
  });

  // row 2: standardised residuals
  series.push({
    type: 'scatter', xAxisIndex: idx(1), yAxisIndex: idx(1), data: pair(p.res),
    symbolSize: 6, itemStyle: { color: '#000', opacity: 1 }, markLine: zeroLine
  });

  // row 3: leverage of the three methods
  const linMap = new Map(p.linPts);
  const nonMap = new Map(p.nonPts);
  const nonBase = p.non || p.gen;
  const levSets = [
    p.gen.map((v, i) => [start + i, linMap.has(start + i) ? linMap.get(start + i) : v]),
    nonBase.map((v, i) => [start + i, nonMap.has(start + i) ? nonMap.get(start + i) : v]),
    pair(p.gen)
  ];
  levSets.forEach((d, m) => {
    series.push({
      name: methodNames[m], type: 'scatter', xAxisIndex: idx(2), yAxisIndex: idx(2), data: d,
      symbolSize: 5.5, itemStyle: { color: methodColors[m], opacity: 1 }
    });
  });

  // row 4: model line with observed points sized by influence
  const inflMap = new Map(p.infl);
  series.push({
    type: 'line', xAxisIndex: idx(3), yAxisIndex: idx(3), data: pair(p.mod),
    symbol: 'none', lineStyle: { color: '#ee1111', width: 1.2 }, markLine: zeroLine
  });
  series.push({
    type: 'scatter', xAxisIndex: idx(3), yAxisIndex: idx(3),
    data: p.obs.map((v, i) => [start + i, v, inflMap.get(start + i) || 0]),
    symbolSize: v => (v[2] > 0 ? 2 + 24 * v[2] : 2.2),
    itemStyle: { color: 'rgba(55,55,55,0.6)', opacity: 1 }
  });

  // row 5: absolute error in Cook's distance
  p.ck.forEach((pts, m) => {
    const ckMap = new Map(pts.map(q => [q[0], q]));
    series.push({
      name: methodNames[m], type: 'scatter', xAxisIndex: idx(4), yAxisIndex: idx(4),
      data: p.obs.map((_, i) => {
        const q = ckMap.get(start + i);
        return q ? [q[0], q[1], q[2]] : [start + i, 0, 0];
      }),
      symbolSize: v => (v[2] > 0 ? 2 + 24 * v[2] : 1.6),
      itemStyle: { color: methodColors[m], opacity: 1 },
      markLine: m === 0 ? zeroLine : undefined
    });
  });
});

const legendBase = {
  orient: 'vertical', left: 115, icon: 'circle', itemWidth: 7, itemHeight: 7, itemGap: 2,
  padding: [7, 12, 7, 9], borderColor: '#ccc', borderWidth: 1, selectedMode: false,
  textStyle: { fontSize: 13, color: '#222', fontFamily: FONT },
  data: methodNames
};

const yNames = [
  { x: 33, y: 127.5, text: 'Streamflow (mm/day)' },
  { x: 33, y: 276.7, text: 'Std. residual' },
  { x: 33, y: 426.3, text: 'Leverage' },
  { x: 33, y: 576.3, text: 'Streamflow (mm/day)' },
  { x: 28, y: 725.7, text: "Abs. error in\nCook's distance" }
];

const graphic = [
  { type: 'text', x: 490, y: 25, style: { text: 'B\u2081 Hydrological model with synthetic streamflow', font: '23px ' + FONT, fill: '#111', align: 'center', verticalAlign: 'middle' } },
  { type: 'text', x: 1310, y: 25, style: { text: 'B\u2082 Hydrological model with observed streamflow', font: '23px ' + FONT, fill: '#111', align: 'center', verticalAlign: 'middle' } },
  { type: 'text', x: 486, y: 848, style: { text: 'Daily time step', font: '19px ' + FONT, fill: '#111', align: 'center', verticalAlign: 'middle' } },
  { type: 'text', x: 1309, y: 848, style: { text: 'Daily time step', font: '19px ' + FONT, fill: '#111', align: 'center', verticalAlign: 'middle' } },
  { type: 'line', shape: { x1: 1704, y1: 672, x2: 1704, y2: 787 }, style: { stroke: '#000', lineWidth: 2.5 } },
  { type: 'polygon', shape: { points: [[1704, 664], [1699.5, 676], [1708.5, 676]] }, style: { fill: '#000' } },
  { type: 'polygon', shape: { points: [[1704, 795], [1699.5, 783], [1708.5, 783]] }, style: { fill: '#000' } },
  { type: 'text', x: 1722, y: 688, rotation: Math.PI / 2, style: { text: 'worse', font: "16px 'Liberation Serif', serif", fill: '#111', align: 'center', verticalAlign: 'middle' } },
  { type: 'text', x: 1722, y: 773, rotation: Math.PI / 2, style: { text: 'better', font: "16px 'Liberation Serif', serif", fill: '#111', align: 'center', verticalAlign: 'middle' } }
];
yNames.forEach(n => {
  graphic.push({
    type: 'text', x: n.x, y: n.y, rotation: Math.PI / 2,
    style: { text: n.text, font: '13px ' + FONT, fill: '#333', align: 'center', verticalAlign: 'middle', lineHeight: 16 }
  });
});

const chart = echarts.init(document.getElementById('main'));
chart.setOption({
  animation: false,
  backgroundColor: '#fff',
  grid: grid,
  xAxis: xAxis,
  yAxis: yAxis,
  legend: [
    Object.assign({}, legendBase, { top: 358 }),
    Object.assign({}, legendBase, { top: 658 })
  ],
  graphic: graphic,
  series: series
});
</script>
</body>
</html>
